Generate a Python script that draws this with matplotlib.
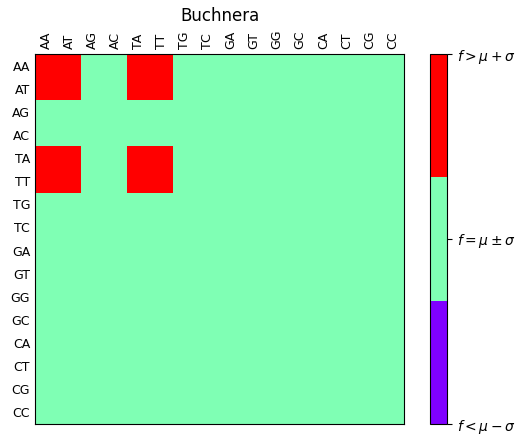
import matplotlib
matplotlib.use('Agg')
import matplotlib.pyplot as plt
import numpy as np

labels = ['AA', 'AT', 'AG', 'AC', 'TA', 'TT', 'TG', 'TC',
          'GA', 'GT', 'GG', 'GC', 'CA', 'CT', 'CG', 'CC']
high_pairs = ['AA', 'AT', 'TA', 'TT']  # f > mu + sigma
title = 'Buchnera'
cbar_ticks = [-1, 0, 1]
cbar_labels = [r'$f<\mu-\sigma$', r'$f=\mu\pm\sigma$', r'$f>\mu+\sigma$']

n = len(labels)
grid = np.zeros((n, n))
for i, r in enumerate(labels):
    for j, c in enumerate(labels):
        if r in high_pairs and c in high_pairs:
            grid[i, j] = 1

cmap = plt.get_cmap('rainbow', 3)

fig = plt.figure(figsize=(5.25, 4.45), dpi=100)
ax = fig.add_axes([35 / 525, 21 / 445, 369 / 525, 370 / 445])
im = ax.imshow(grid, cmap=cmap, vmin=-1, vmax=1, aspect='auto', interpolation='nearest')
ax.set_xticks(range(n))
ax.set_yticks(range(n))
ax.set_xticklabels(labels, rotation=90, fontsize=9)
ax.set_yticklabels(labels, fontsize=9)
ax.xaxis.tick_top()
ax.tick_params(length=0)
ax.set_title(title, fontsize=12, pad=6)

cax = fig.add_axes([430 / 525, 21 / 445, 17 / 525, 370 / 445])
cb = fig.colorbar(im, cax=cax, ticks=cbar_ticks)
cb.ax.set_yticklabels(cbar_labels, fontsize=10)

fig.savefig('out.png', dpi=100)
